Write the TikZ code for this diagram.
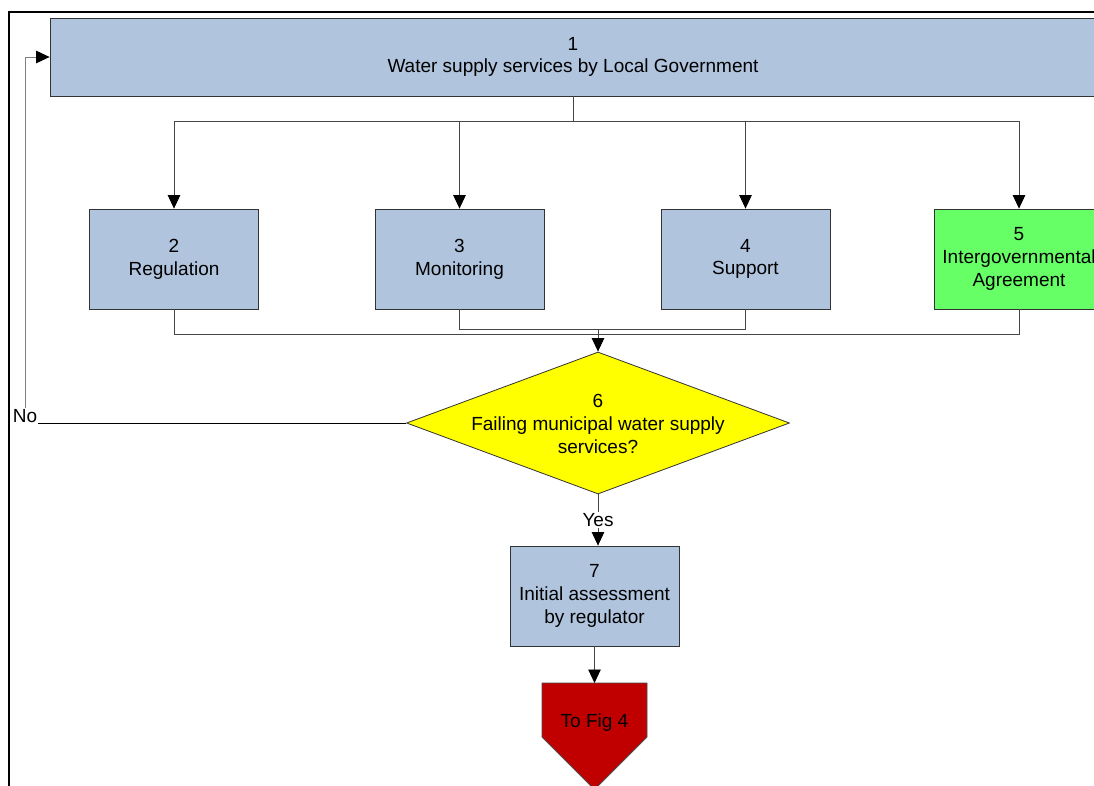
\documentclass[tikz,border=0pt]{standalone}
\usepackage{fontspec}
\setmainfont{Liberation Sans}
\usetikzlibrary{arrows.meta,shapes.geometric}
\definecolor{boxblue}{RGB}{176,196,222}
\definecolor{boxgreen}{RGB}{102,255,102}
\definecolor{diayellow}{RGB}{255,255,0}
\definecolor{figred}{RGB}{192,0,0}
\definecolor{conn}{RGB}{70,70,70}
\begin{document}
\begin{tikzpicture}[x=1pt,y=-1pt,
  every node/.style={font=\fontsize{19}{22.7}\selectfont, align=center, inner sep=0pt},
  box/.style={draw=black!80, line width=0.8pt, fill=boxblue, minimum width=169pt, minimum height=100pt},
  link/.style={draw=conn, line width=0.9pt},
  arr/.style={link, -{Triangle[width=12.5pt,length=13.5pt,color=black]}},
]
\useasboundingbox (0,0) rectangle (1094,785);
\clip (0,0) rectangle (1094,785);
\fill[white] (0,0) rectangle (1094,785);
% frame
\draw[line width=1.8pt] (9,786) -- (9,12) -- (1095,12);
% nodes
\node[box, minimum width=1046pt, minimum height=78pt] (b1) at (573,57) {1\\Water supply services by Local Government};
\node[box] (b2) at (174,259) {2\\Regulation};
\node[box] (b3) at (459.5,259) {3\\Monitoring};
\node[box] (b4) at (745.5,259) {4\\Support};
\node[box, fill=boxgreen] (b5) at (1019,259) {5\\Intergovernmental\\Agreement};
\node[diamond, draw=black!80, line width=0.8pt, fill=diayellow, aspect=2.7, minimum width=383pt, minimum height=142pt] (d6) at (598,423) {};
\node (d6t) at (598,424) {6\\Failing municipal water supply\\services?};
\node[box] (b7) at (594.5,596) {7\\Initial assessment\\by regulator};
\draw[draw=black!70, line width=0.8pt, fill=figred] (542,683) -- (647,683) -- (647,737) -- (594.5,789.5) -- (542,737) -- cycle;
\node (fig4) at (594.5,723) {To Fig 4};
\coordinate (fig4top) at (594.5,683);
\node[inner sep=1pt] (no) at (25,416) {No};
% connectors top
\coordinate (tj) at (573,121);
\draw[link] (b1.south) -- (tj);
\draw[arr] (tj) -| (b2.north);
\draw[arr] (tj) -| (b3.north);
\draw[arr] (tj) -| (b4.north);
\draw[arr] (tj) -| (b5.north);
% merge
\draw[link] (b2.south) -- ++(0,25) -| (b5.south);
\draw[link] (b3.south) -- ++(0,20) -| (b4.south);
\coordinate (mj) at (598,329);
\draw[arr] (mj) -- (d6.north);
% no loop
\draw[line width=0.9pt] (d6.west) -- (d6.west -| no.east);
\draw[arr, draw=black!50] (no.north) |- (b1.west);
% yes
\draw[arr] (d6.south) -- node[fill=white, inner sep=1.5pt] {Yes} (d6.south |- b7.north);
\draw[arr] (b7.south) -- (fig4top);
\end{tikzpicture}
\end{document}
